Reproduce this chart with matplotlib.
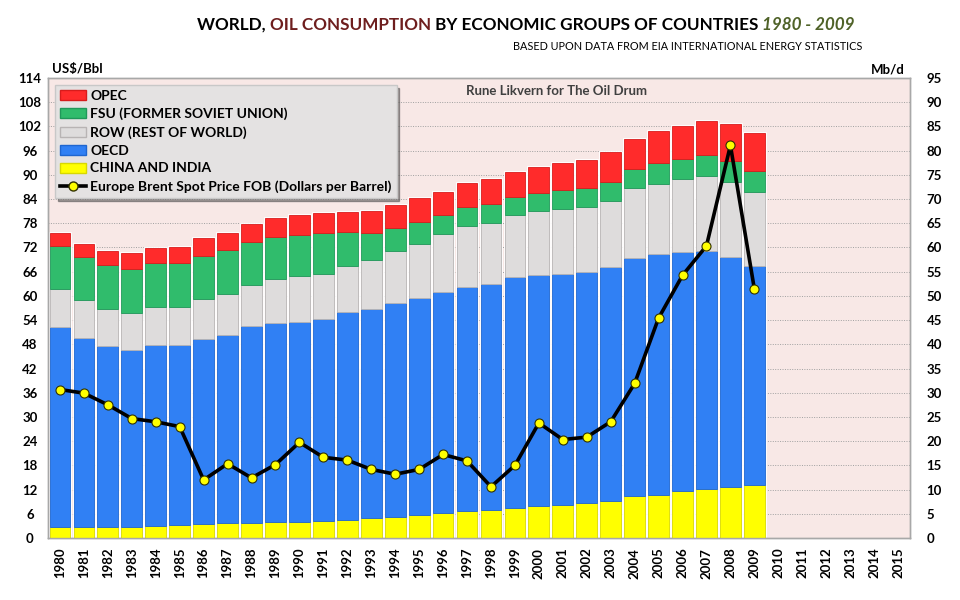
import matplotlib
matplotlib.use('Agg')
import matplotlib.pyplot as plt
import numpy as np
from matplotlib.patches import Patch
from matplotlib.lines import Line2D

plt.rcParams['font.family'] = ['Lato', 'DejaVu Sans']

# data (Mb/d for groups, US$/Bbl for Brent)
years = list(range(1980, 2016))
data_years = list(range(1980, 2010))

china_india = [2.3, 2.3, 2.3, 2.3, 2.4, 2.7, 2.8, 3.0, 3.2, 3.4,
               3.3, 3.5, 3.8, 4.2, 4.4, 4.7, 5.1, 5.5, 5.7, 6.2,
               6.7, 6.8, 7.2, 7.7, 8.7, 8.9, 9.7, 10.1, 10.5, 10.9]
oecd = [41.3, 39.0, 37.3, 36.6, 37.4, 37.1, 38.4, 39.0, 40.5, 41.1,
        41.4, 41.7, 42.8, 43.0, 44.2, 44.8, 45.8, 46.4, 46.8, 47.6,
        47.7, 47.8, 47.8, 48.3, 49.2, 49.7, 49.3, 49.2, 47.5, 45.2]
row = [7.8, 7.8, 7.7, 7.6, 7.9, 7.9, 8.1, 8.3, 8.5, 9.0,
       9.4, 9.4, 9.6, 10.2, 10.7, 11.2, 11.9, 12.5, 12.6, 13.0,
       13.2, 13.4, 13.4, 13.6, 14.3, 14.6, 15.1, 15.4, 15.6, 15.4]
fsu = [8.9, 8.9, 9.1, 9.0, 9.0, 9.0, 8.9, 9.1, 9.0, 8.7,
       8.5, 8.4, 6.9, 5.6, 4.8, 4.6, 3.9, 4.0, 3.8, 3.6,
       3.7, 3.9, 3.9, 4.0, 4.1, 4.2, 4.2, 4.3, 4.3, 4.2]
opec = [2.7, 2.8, 2.9, 3.3, 3.2, 3.4, 3.7, 3.6, 3.7, 3.8,
        4.1, 4.1, 4.3, 4.6, 4.7, 4.9, 4.8, 5.0, 5.2, 5.2,
        5.4, 5.5, 5.8, 6.1, 6.2, 6.7, 6.8, 7.2, 7.7, 7.9]
brent = [36.8, 35.9, 33.0, 29.6, 28.8, 27.6, 14.4, 18.4, 14.9, 18.2,
         23.7, 20.0, 19.3, 17.0, 15.8, 17.0, 20.7, 19.1, 12.7, 18.0,
         28.5, 24.4, 25.0, 28.8, 38.3, 54.5, 65.1, 72.4, 97.3, 61.7]

layers = [
    ('CHINA AND INDIA', china_india, '#FFFF00', '#D8D800'),
    ('OECD', oecd, '#3080F4', '#1E66D0'),
    ('ROW (REST OF WORLD)', row, '#DEDCDC', '#B8B4B4'),
    ('FSU (FORMER SOVIET UNION)', fsu, '#30BC6C', '#20985A'),
    ('OPEC', opec, '#FF2B2B', '#D81C1C'),
]

fig = plt.figure(figsize=(9.6, 6.0), dpi=100)
fig.patch.set_facecolor('white')
ax = fig.add_axes([48 / 960, 62 / 600, 862 / 960, 460 / 600])
ax.set_facecolor('#F8E8E6')
ax2 = ax.twinx()
ax2.set_facecolor('none')

x = np.arange(len(data_years))
width = 0.87

# white halo behind each stacked bar
total = np.sum([np.array(l[1]) for l in layers], axis=0)
ax.bar(x, total, width=width, color='white', edgecolor='white', linewidth=2.0, zorder=2)

bottom = np.zeros(len(data_years))
for name, vals, col, edge in layers:
    vals = np.array(vals)
    ax.bar(x, vals, width=width, bottom=bottom, color=col, edgecolor=edge,
           linewidth=0.6, zorder=3)
    bottom += vals

# Mb/d axis (bars) -> right side
ax.set_xlim(-0.5, len(years) - 0.5)
ax.set_ylim(0, 95)
ax.set_yticks(np.arange(0, 96, 5))
ax.yaxis.tick_right()
ax.grid(axis='y', color='#A0A0A0', linestyle=(0, (1, 1.5)), linewidth=0.7, zorder=1)
ax.set_axisbelow(True)
ax.set_xticks(np.arange(len(years)))
ax.set_xticklabels([str(y) for y in years], rotation=90, fontsize=9.5,
                   fontweight='bold')
ax.tick_params(axis='x', length=0, pad=7)
ax.tick_params(axis='y', length=0, pad=12, labelsize=9.5)
for t in ax.get_yticklabels():
    t.set_fontweight('bold')

# US$/Bbl axis (price line) -> left side
ax2.plot(x, brent, color='black', linewidth=2.6, marker='o', markersize=6.5,
         markerfacecolor='#FFFF00', markeredgecolor='#333300',
         markeredgewidth=0.8, zorder=5)
ax2.set_ylim(0, 114)
ax2.set_yticks(np.arange(0, 115, 6))
ax2.yaxis.tick_left()
ax2.tick_params(axis='y', length=0, pad=13, labelsize=9.5)
for t in ax2.get_yticklabels():
    t.set_fontweight('bold')
    t.set_horizontalalignment('center')

for a in (ax, ax2):
    for s in a.spines.values():
        s.set_color('#A8A8A8')
        s.set_linewidth(1.0)

# legend
handles = [Patch(facecolor=c, edgecolor=e, label=n) for n, v, c, e in reversed(layers)]
handles.append(Line2D([0], [0], color='black', linewidth=2.6, marker='o',
                      markersize=6.5, markerfacecolor='#FFFF00',
                      markeredgecolor='#333300',
                      label='Europe Brent Spot Price FOB (Dollars per Barrel)'))
leg = ax2.legend(handles=handles, loc='upper left', bbox_to_anchor=(0.008, 0.985),
                 borderaxespad=0, frameon=True, fancybox=False, shadow=True,
                 prop={'weight': 'bold', 'size': 10.0}, labelspacing=0.42,
                 handlelength=1.9, handleheight=0.75, handletextpad=0.3,
                 borderpad=0.35)
leg.get_frame().set_facecolor('#E4E2E2')
leg.get_frame().set_edgecolor('#C8C8C8')
leg.get_frame().set_alpha(1.0)
leg.set_zorder(10)

ax2.text(0.590, 0.972, 'Rune Likvern for The Oil Drum', transform=ax2.transAxes,
         ha='center', va='center', fontsize=9.5, color='#404040', fontweight='bold')

# axis unit labels
fig.text(52 / 960, 1 - 69 / 600, 'US$/Bbl', ha='left', va='center',
         fontsize=9.5, fontweight='bold')
fig.text(905 / 960, 1 - 70 / 600, 'Mb/d', ha='right', va='center',
         fontsize=9.5, fontweight='bold')

# multi-coloured title, pieces placed one after another, scaled to target width
pieces = [
    ('WORLD, ', '#000000', 'normal'),
    ('OIL CONSUMPTION', '#6E1E1E', 'normal'),
    (' BY ECONOMIC GROUPS OF COUNTRIES ', '#000000', 'normal'),
    ('1980 - 2009', '#4F6228', 'italic'),
]
renderer = fig.canvas.get_renderer()
title_fam = ['Liberation Sans Narrow', 'Lato', 'DejaVu Sans']


def draw_title(size, x0):
    objs = []
    xpos = x0
    for txt, col, style in pieces:
        t = fig.text(xpos / 960, 1 - 25 / 600, txt, color=col, fontsize=size,
                     fontweight='bold', fontstyle=style, family=title_fam,
                     ha='left', va='center')
        bb = t.get_window_extent(renderer)
        xpos = bb.x1
        objs.append(t)
    return objs, xpos - x0


objs, w = draw_title(14, 197)
for o in objs:
    o.remove()
size = 14 * 665 / w
draw_title(size, 197)

fig.text(862 / 960, 1 - 46 / 600,
         'BASED UPON DATA FROM EIA INTERNATIONAL ENERGY STATISTICS',
         ha='right', va='center', fontsize=7.8, family=title_fam)

fig.savefig('out.png', dpi=100, facecolor='white')
